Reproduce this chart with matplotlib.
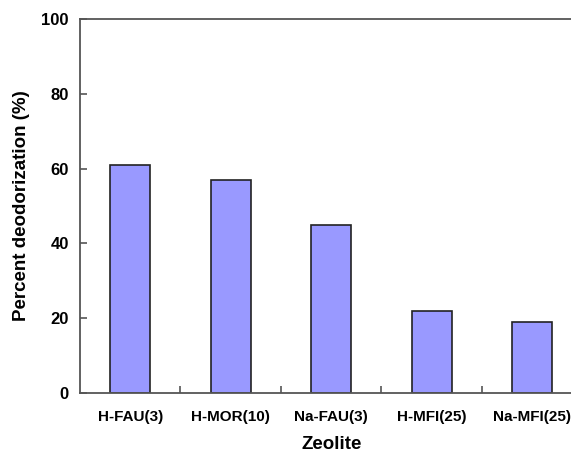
import matplotlib
matplotlib.use("Agg")
import matplotlib.pyplot as plt
import numpy as np

zeolites = ["H-FAU(3)", "H-MOR(10)", "Na-FAU(3)", "H-MFI(25)", "Na-MFI(25)"]
deodorization = [61, 57, 45, 22, 19]
y_ticks = [0, 20, 40, 60, 80, 100]

plt.rcParams["font.family"] = ["Liberation Sans", "DejaVu Sans"]
plt.rcParams["font.weight"] = "bold"

fig = plt.figure(figsize=(5.71, 4.53), dpi=100)
# axes runs past the right edge: the source figure is cropped there
ax = fig.add_axes([0.1401, 0.1325, 0.880, 0.8256])

x = np.arange(len(zeolites))
ax.bar(x, deodorization, width=0.4, color="#9999ff", edgecolor="#222222", linewidth=1.2)

ax.set_xlim(-0.5, len(zeolites) - 0.5)
ax.set_ylim(0, 100)
ax.set_yticks(y_ticks)
ax.set_yticklabels([str(v) for v in y_ticks], fontsize=12, fontweight="bold")

# category labels sit at bar centres, tick marks sit between categories
ax.set_xticks(x)
ax.set_xticklabels(zeolites, fontsize=11, fontweight="bold")
ax.tick_params(axis="x", length=0, pad=12)
ax.set_xticks(x[:-1] + 0.5, minor=True)
ax.tick_params(axis="x", which="minor", direction="in", length=5, color="#555555", width=1.2)
ax.tick_params(axis="y", direction="in", length=5, color="#555555", width=1.2, pad=8)

for side in ["left", "bottom", "top", "right"]:
    ax.spines[side].set_color("#555555")
    ax.spines[side].set_linewidth(1.3)

ax.set_xlabel("Zeolite", fontsize=13.5, fontweight="bold", labelpad=9)
ax.set_ylabel("Percent deodorization (%)", fontsize=13.5, fontweight="bold", labelpad=8)

fig.savefig("out.png", dpi=100)
